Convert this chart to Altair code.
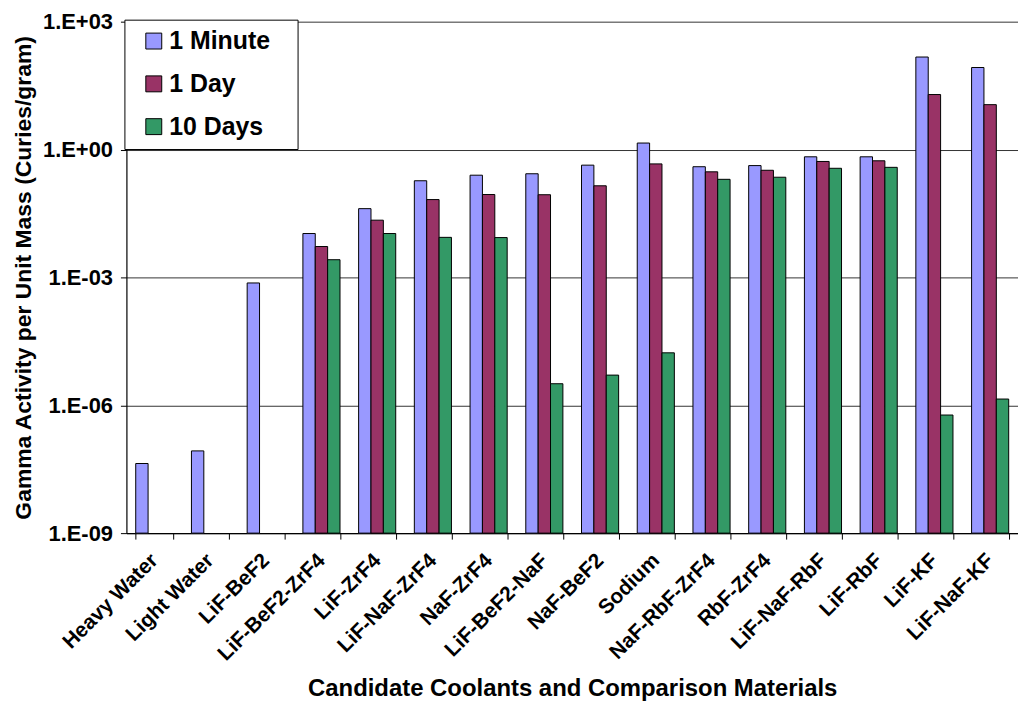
import altair as alt
import pandas as pd

categories = ["Heavy Water", "Light Water", "LiF-BeF2", "LiF-BeF2-ZrF4", "LiF-ZrF4",
              "LiF-NaF-ZrF4", "NaF-ZrF4", "LiF-BeF2-NaF", "NaF-BeF2", "Sodium",
              "NaF-RbF-ZrF4", "RbF-ZrF4", "LiF-NaF-RbF", "LiF-RbF", "LiF-KF", "LiF-NaF-KF"]
series = ["1 Minute", "1 Day", "10 Days"]
one_minute = [4.3e-8, 8.5e-8, 7.4e-4, 1.07e-2, 4.1e-2, 0.185, 0.25, 0.27, 0.43, 1.42,
              0.395, 0.42, 0.675, 0.675, 148, 84]
one_day = [None, None, None, 5.3e-3, 2.2e-2, 0.067, 0.088, 0.087, 0.141, 0.46,
           0.30, 0.326, 0.525, 0.544, 19.5, 11.3]
ten_days = [None, None, None, 2.6e-3, 1.07e-2, 8.7e-3, 8.6e-3, 3.2e-6, 5.1e-6, 1.7e-5,
            0.20, 0.224, 0.363, 0.382, 5.9e-7, 1.4e-6]
colors = ["#9999FF", "#993366", "#339966"]
y_ticks = [1e-9, 1e-6, 1e-3, 1, 1e3]

rows = []
for name, vals in zip(series, [one_minute, one_day, ten_days]):
    for c, v in zip(categories, vals):
        if v is not None:
            rows.append({"material": c, "series": name, "value": v})
df = pd.DataFrame(rows)

FONT = "Liberation Sans"

label_expr = ("'1.E' + (round(log(datum.value)/LN10) >= 0 ? '+' : '-') + '0' + "
              "abs(round(log(datum.value)/LN10))")

chart = alt.Chart(df).mark_bar(stroke="black", strokeWidth=1).encode(
    x=alt.X("material:N", sort=categories,
            scale=alt.Scale(paddingInner=0.334, paddingOuter=0.167),
            axis=alt.Axis(title="Candidate Coolants and Comparison Materials",
                          labelAngle=-45, labelAlign="right", labelBaseline="middle",
                          labelFontSize=21, labelFontWeight="bold",
                          labelFont=FONT, labelColor="black", labelPadding=18,
                          titleFontSize=24, titleFontWeight="bold", titleFont=FONT,
                          titleColor="black", titlePadding=12,
                          tickBand="extent", tickColor="black", tickSize=6,
                          domainColor="black", domainWidth=1.2, grid=False)),
    xOffset=alt.XOffset("series:N", sort=series, scale=alt.Scale(domain=series)),
    y=alt.Y("value:Q",
            scale=alt.Scale(type="log", domain=[1e-9, 1e3], nice=False, clamp=True),
            axis=alt.Axis(title="Gamma Activity per Unit Mass (Curies/gram)",
                          values=y_ticks, labelExpr=label_expr,
                          labelFontSize=22, labelFontWeight="bold", labelFont=FONT,
                          labelColor="black", labelPadding=8,
                          titleFontSize=23, titleFontWeight="bold", titleFont=FONT,
                          titleColor="black", titlePadding=7,
                          tickColor="black", tickSize=6, domainColor="black",
                          domainWidth=1.2, grid=True, gridColor="#333", gridWidth=1)),
    color=alt.Color("series:N", sort=series,
                    scale=alt.Scale(domain=series, range=colors),
                    legend=alt.Legend(title=None, orient="none", legendX=-2, legendY=-2,
                                      symbolType="square", symbolSize=256,
                                      symbolStrokeColor="black", symbolStrokeWidth=1,
                                      symbolOffset=8, labelOffset=3,
                                      labelExpr="datum.label + '\u2800'",
                                      labelFontSize=25, labelFontWeight="bold",
                                      labelFont=FONT, labelColor="black",
                                      rowPadding=17, padding=9,
                                      strokeColor="black", fillColor="white",
                                      cornerRadius=0)),
).properties(
    width=896, height=514,
    autosize=alt.AutoSizeParams(type="none"),
    padding={"left": 119, "top": 12, "right": 0, "bottom": 172},
).configure_view(stroke=None)

chart.save("out.html", embed_options={"renderer": "svg", "actions": False})
